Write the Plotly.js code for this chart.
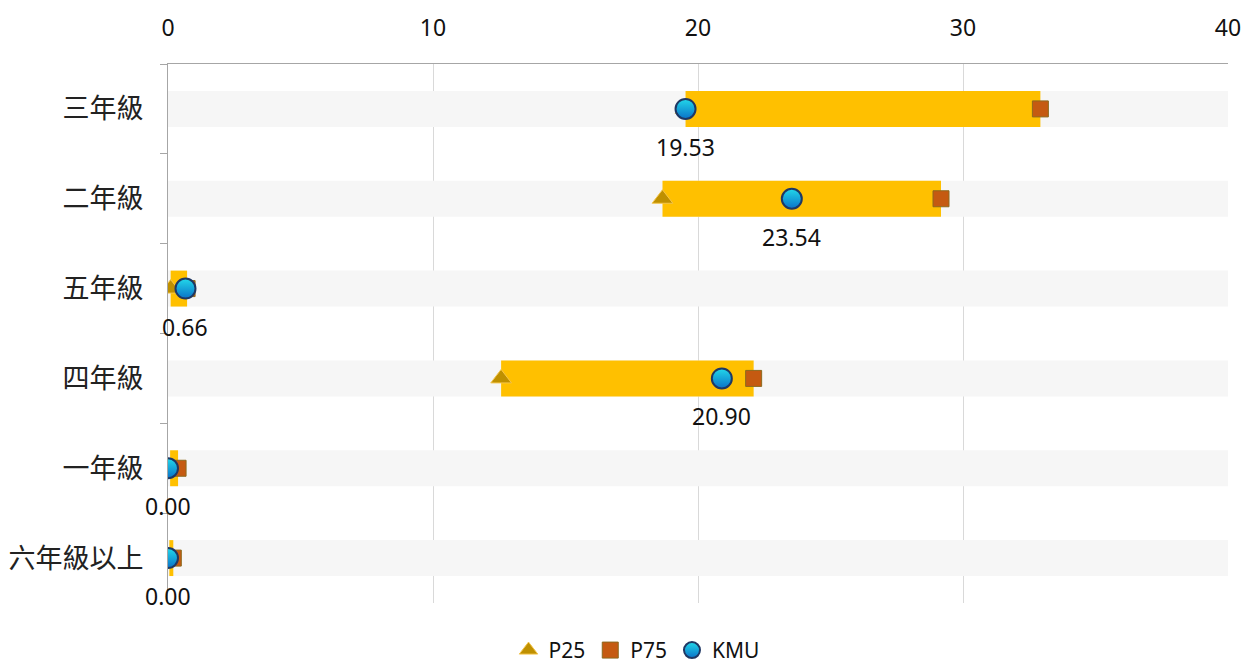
<!DOCTYPE html>
<html>
<head>
<meta charset="utf-8">
<script src="https://cdn.plot.ly/plotly-3.0.1.min.js"></script>
<style>html,body{margin:0;padding:0;background:#fff;}#chart{width:1243px;height:665px;}</style>
</head>
<body>
<div id="chart"></div>
<script>
const categories = ["三年級", "二年級", "五年級", "四年級", "一年級", "六年級以上"];
const p25 = [19.53, 18.66, 0.10, 12.57, 0.08, 0.05];
const p75 = [32.92, 29.17, 0.72, 22.10, 0.38, 0.20];
const kmu = [19.53, 23.54, 0.66, 20.90, 0.00, 0.00];
const bandMax = [40, 40, 40, 40, 40, 40];
const xTicks = [0, 10, 20, 30, 40];

const fontFam = "'Noto Sans', 'Noto Sans CJK TC', sans-serif";

const traces = [
  {
    type: 'bar', orientation: 'h', y: categories, x: bandMax, base: 0,
    width: 0.4, marker: {color: '#F6F6F6', line: {width: 0}},
    showlegend: false, hoverinfo: 'skip'
  },
  {
    type: 'bar', orientation: 'h', y: categories,
    x: p75.map((v, i) => v - p25[i]), base: p25,
    width: 0.4, marker: {color: '#FFC000', line: {width: 0}},
    showlegend: false, hoverinfo: 'skip'
  },
  {
    type: 'scatter', mode: 'markers', name: 'P25', x: p25, y: categories,
    marker: {symbol: 'triangle-up', size: 18, color: '#BF9000', line: {color: '#F5C54A', width: 1}}
  },
  {
    type: 'scatter', mode: 'markers', name: 'P75', x: p75, y: categories,
    marker: {symbol: 'square', size: 16, color: '#C55A11', line: {color: '#8C6A1E', width: 1}}
  },
  {
    type: 'scatter', mode: 'markers', name: 'KMU', x: kmu, y: categories,
    marker: {symbol: 'circle', size: 20, color: '#22D8EA',
      gradient: {type: 'vertical', color: '#0A72C8'},
      line: {color: '#1F3864', width: 2}}
  }
];

const annotations = categories.map((c, i) => ({
  x: kmu[i], y: c, xref: 'x', yref: 'y', text: kmu[i].toFixed(2),
  showarrow: false, yshift: -38,
  font: {family: fontFam, size: 23, color: '#111'}
}));

const layout = {
  width: 1243, height: 665,
  margin: {l: 168, r: 15, t: 64, b: 62, autoexpand: false},
  paper_bgcolor: '#fff', plot_bgcolor: '#fff',
  barmode: 'overlay',
  showlegend: true,
  legend: {orientation: 'h', x: 0.442, xanchor: 'center', y: -0.088, yanchor: 'middle',
    font: {family: fontFam, size: 21, color: '#111'}, itemwidth: 30, tracegroupgap: 0},
  xaxis: {
    side: 'top', range: [0, 40], tickvals: xTicks, ticktext: xTicks.map(String),
    showgrid: true, gridcolor: '#D9D9D9', gridwidth: 1,
    showline: true, linecolor: '#A6A6A6', linewidth: 1,
    zeroline: false, ticks: '', ticklabelstandoff: 18,
    tickfont: {family: fontFam, size: 23, color: '#111'}, fixedrange: true
  },
  yaxis: {
    type: 'category', categoryorder: 'array', categoryarray: categories,
    range: [5.5, -0.5], autorange: false, showgrid: false, zeroline: false,
    showline: true, linecolor: '#A6A6A6', linewidth: 1,
    ticks: 'outside', tickson: 'boundaries', ticklen: 7, tickcolor: '#A6A6A6',
    tickfont: {family: "'Noto Sans CJK TC', sans-serif", size: 27, color: '#222'},
    ticklabelstandoff: 18, fixedrange: true
  },
  annotations: annotations,
  font: {family: fontFam}
};

Plotly.newPlot('chart', traces, layout, {displayModeBar: false, staticPlot: true});
</script>
</body>
</html>
